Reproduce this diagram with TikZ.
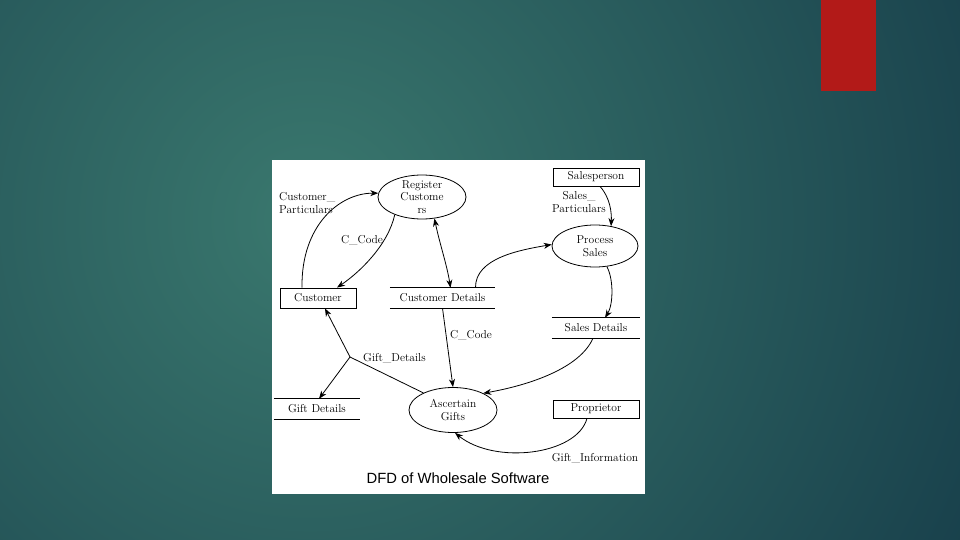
\documentclass[tikz,border=0pt]{standalone}
\usepackage{fontspec}
\usepackage{tikz}
\usetikzlibrary{arrows.meta,shapes.geometric}
\newfontfamily\capfont{Liberation Sans}
\definecolor{slidein}{RGB}{58,120,110}
\definecolor{slideout}{RGB}{17,52,68}
\definecolor{barred}{RGB}{178,26,24}
\tikzstyle{flow}=[draw, line width=0.8pt, -{Stealth[length=8pt,width=6pt,inset=2.5pt]}]
\tikzstyle{twoway}=[draw, line width=0.8pt, {Stealth[length=8pt,width=6pt,inset=2.5pt]}-{Stealth[length=8pt,width=6pt,inset=2.5pt]}]
\tikzstyle{entity}=[draw, line width=0.8pt, rectangle, minimum width=86pt, minimum height=18pt, inner sep=0pt]
\tikzstyle{proc}=[draw, line width=0.8pt, ellipse, minimum width=88pt, minimum height=44pt, inner sep=0pt, inner ysep=-3.5pt, align=center]
\tikzstyle{store}=[rectangle, minimum width=88pt, minimum height=20pt, inner sep=0pt]
\tikzstyle{lbl}=[inner sep=0pt]

\begin{document}
\begin{tikzpicture}[x=1pt,y=-1pt,font=\fontsize{11.5}{12.5}\selectfont]
\useasboundingbox (0,0) rectangle (960,540);
% slide behind the figure
\begin{scope}
\clip (0,0) rectangle (960,540);
\shade[inner color=slidein, outer color=slideout] (310,220) circle (900);
\end{scope}
\fill[barred] (821,0) rectangle (876,91);
\fill[white] (272,160) rectangle (645,494);

% processes
\node[proc] (regc) at (422,197) {Register\\Custome\\rs};
\node[proc, minimum width=86pt, minimum height=42pt] (psal) at (595,246) {Process\\Sales};
\node[proc, minimum height=45pt] (asc) at (453,410) {Ascertain\\Gifts};

% entities
\node[entity, minimum width=76pt, minimum height=20pt] (cust) at (318,298) {Customer};
\node[entity] (sper) at (596,177) {Salesperson};
\node[entity] (prop) at (596,409) {Proprietor};

% data stores
\node[store, minimum width=105pt] (cdet) at (442.5,298) {Customer Details};
\node[store] (sdet) at (596,328) {Sales Details};
\node[store, minimum width=86pt] (gdet) at (317,409) {Gift Details};
\foreach \s in {cdet,sdet,gdet} % open boxes
\draw[line width=0.8pt] (\s.north west) -- (\s.north east) (\s.south west) -- (\s.south east);

\coordinate (jn) at (350,357);

% flow labels
\node[lbl, anchor=west, align=left] (cpart) at (279,203) {Customer\_\\Particulars};
\node[lbl] (ccode1) at (362,240) {C\_Code};
\node[lbl, align=center] (spart) at (579,202) {Sales\_\\Particulars};
\node[lbl] (ccode2) at (471,335) {C\_Code};
\node[lbl, anchor=west] (gdlbl) at (363,358) {Gift\_Details};
\node[lbl] (ginfo) at (595,458) {Gift\_Information};
\node[lbl, font=\capfont\fontsize{14.8}{16}\selectfont] (title) at (458,478) {DFD of Wholesale Software};

% flows
\path[flow] ([xshift=-16pt]cust.north) .. controls (301,225) and (340,193) .. (regc.175);
\path[flow] (regc.213) .. controls (388,245) and (360,272) .. ([xshift=19pt]cust.north);
\path[twoway] (regc.-60) .. controls (440,245) and (447,265) .. ([xshift=8pt]cdet.north);
\path[flow] ([xshift=33pt]cdet.north) .. controls (475,258) and (520,250) .. (psal.178);
\path[flow] ([xshift=4pt]sper.south) .. controls (606,193) and (612,205) .. (psal.51);
\path[flow] (psal.-60) .. controls (614,280) and (613,305) .. ([xshift=9pt]sdet.north);
\path[flow] (cdet.south) -- (asc.north);
\draw[line width=0.8pt] (asc.150) -- (jn);
\path[flow] (jn) -- ([xshift=7pt]cust.south);
\path[flow] (jn) -- ([xshift=2pt]gdet.north);
\path[flow] ([xshift=-3pt]sdet.south) .. controls (580,368) and (530,385) .. (asc.29);
\path[flow] ([xshift=-9pt]prop.south) .. controls (577,455) and (495,465) .. (asc.-85);
\end{tikzpicture}
\end{document}
